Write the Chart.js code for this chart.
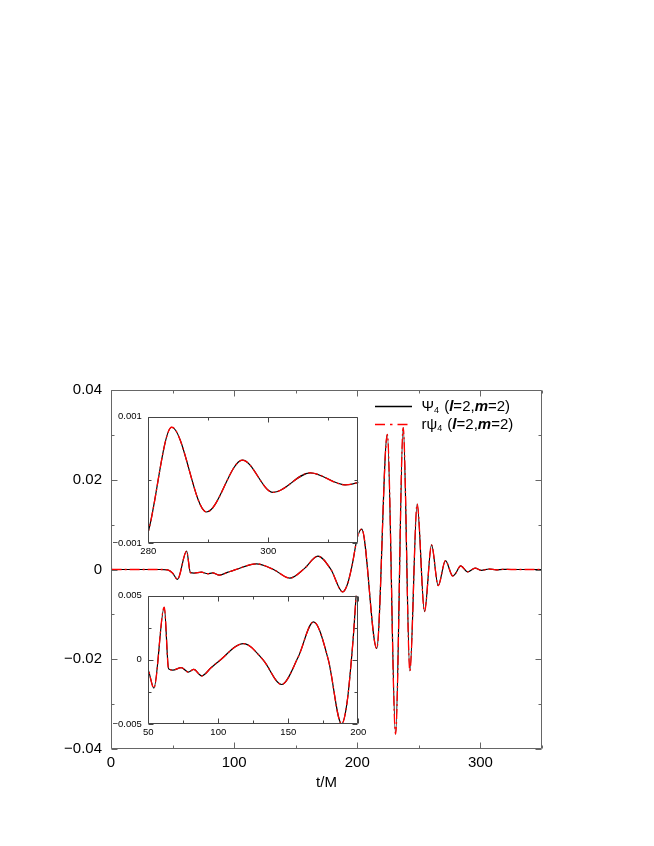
<!DOCTYPE html>
<html>
<head>
<meta charset="utf-8">
<script src="https://cdn.jsdelivr.net/npm/chart.js@4.4.1/dist/chart.umd.min.js"></script>
<style>
  html, body { margin: 0; padding: 0; background: #fff; }
  #wrap { position: relative; width: 654px; height: 846px; }
  #wrap canvas { position: absolute; left: 0; top: 0; }
</style>
</head>
<body>
<div id="wrap">
  <canvas id="main" width="654" height="846"></canvas>
  <canvas id="insetTop" width="654" height="846"></canvas>
  <canvas id="insetBottom" width="654" height="846"></canvas>
</div>
<script>
// time in units of M
const timeM = [0, 0.5, 20, 40, 46, 50, 54, 61.4, 64.5, 67.5, 73.5, 78.5, 82.5, 88, 95, 100,
  118, 132, 145.2, 157, 168, 178.6, 188.1, 192, 196, 200, 203.6, 215.8, 224.4, 231.1, 237.3,
  242.7, 248.6, 254.6, 260.3, 265.7, 271.6, 277.5, 280, 283.9, 289.7, 295.7, 300.8, 307,
  312.8, 318.5, 325, 350];

// Psi_4 (l=2, m=2)
const psi4 = [0.004, 0, 0, 0, -0.0001, -0.0008, -0.0022, 0.0041, -0.0007, -0.0008, -0.0006, -0.00095, -0.00075, -0.00125, -0.0006, -0.00015,
  0.00127, 0, -0.00192, 0.0002, 0.00296, 0, -0.005, -0.0033, 0.0012, 0.0071, 0.009, -0.0176, 0.0301, -0.0367, 0.0316,
  -0.0226, 0.0146, -0.0094, 0.0055, -0.0036, 0.0020, -0.00145, -0.00082, 0.00083, -0.00051, 0.00031, -0.0002, 0.00011,
  -0.00008, 0.00003, 0, 0];

// r psi_4 (l=2, m=2)
const rPsi4 = [0.004, 0, 0, 0, -0.0001, -0.0008, -0.0022, 0.0041, -0.0007, -0.0008, -0.0006, -0.00095, -0.00075, -0.00125, -0.0006, -0.00015,
  0.00127, 0, -0.00192, 0.0002, 0.00296, 0, -0.005, -0.0033, 0.0012, 0.0071, 0.009, -0.0176, 0.0301, -0.0367, 0.0316,
  -0.0226, 0.0146, -0.0094, 0.0055, -0.0036, 0.0020, -0.00145, -0.00082, 0.00083, -0.00051, 0.00031, -0.0002, 0.00011,
  -0.00008, 0.00003, 0, 0];

// tick labels
const mainXLabels = [0, 100, 200, 300];
const mainYLabels = [-0.04, -0.02, 0, 0.02, 0.04];
const topXLabels = [280, 300];
const topYLabels = [-0.001, 0.001];
const bottomXLabels = [50, 100, 150, 200];
const bottomYLabels = [-0.005, 0, 0.005];
const xTitle = 't/M';

const FONT = "'Liberation Sans', Arial, Helvetica, sans-serif";
const RED_DASH = [10, 3, 2, 3];

function isIn(v, list) {
  return list.some(u => Math.abs(u - v) < 1e-9);
}
function fmt(v, dec) {
  if (Math.abs(v) < 1e-12) return '0';
  return (v < 0 ? '\u2212' : '') + Math.abs(v).toFixed(dec);
}
function points(vals) {
  return timeM.map((t, i) => ({x: t, y: vals[i]}));
}

// box with inward ticks on all four sides, optional white fill
const framePlugin = {
  id: 'frame',
  beforeDatasetsDraw(chart, args, o) {
    if (!o.fill) return;
    const a = chart.chartArea;
    chart.ctx.save();
    chart.ctx.fillStyle = '#fff';
    chart.ctx.fillRect(a.left, a.top, a.right - a.left, a.bottom - a.top);
    chart.ctx.restore();
  },
  afterDatasetsDraw(chart, args, o) {
    const {ctx, chartArea: a} = chart;
    const x = chart.scales.x, y = chart.scales.y;
    ctx.save();
    ctx.strokeStyle = o.color;
    ctx.lineWidth = 1;
    ctx.beginPath();
    const L = Math.round(a.left) + 0.5, R = Math.round(a.right) - 0.5;
    const T = Math.round(a.top) + 0.5, B = Math.round(a.bottom) - 0.5;
    ctx.rect(L, T, R - L, B - T);
    const n0 = Math.ceil(x.min / o.xStep - 1e-9), n1 = Math.floor(x.max / o.xStep + 1e-9);
    for (let n = n0; n <= n1; n++) {
      const v = n * o.xStep;
      const px = Math.round(x.getPixelForValue(v)) + 0.5;
      const len = isIn(v, o.xLabels) ? o.major : o.minor;
      ctx.moveTo(px, B); ctx.lineTo(px, B - len);
      ctx.moveTo(px, T); ctx.lineTo(px, T + len);
    }
    const m0 = Math.ceil(y.min / o.yStep - 1e-9), m1 = Math.floor(y.max / o.yStep + 1e-9);
    for (let m = m0; m <= m1; m++) {
      const v = m * o.yStep;
      const py = Math.round(y.getPixelForValue(v)) + 0.5;
      const len = isIn(v, o.yLabels) ? o.major : o.minor;
      ctx.moveTo(L, py); ctx.lineTo(L + len, py);
      ctx.moveTo(R, py); ctx.lineTo(R - len, py);
    }
    ctx.stroke();
    ctx.restore();
  }
};

// legend with subscripts and bold italic l, m
const legendPlugin = {
  id: 'richLegend',
  afterDraw(chart, args, o) {
    if (!o.display) return;
    const ctx = chart.ctx;
    const rows = [
      {color: '#000', dash: [], parts: [['Ψ', 'n'], ['4', 's'], [' (', 'n'], ['l', 'b'], ['=2,', 'n'], ['m', 'b'], ['=2)', 'n']]},
      {color: '#ff0000', dash: [10, 5, 2.5, 5], parts: [['rψ', 'n'], ['4', 's'], [' (', 'n'], ['l', 'b'], ['=2,', 'n'], ['m', 'b'], ['=2)', 'n']]}
    ];
    const fonts = {n: '15px ' + FONT, s: '9px ' + FONT, b: 'italic bold 15px ' + FONT};
    ctx.save();
    rows.forEach((r, i) => {
      const yy = 406.5 + i * 18;
      ctx.strokeStyle = r.color;
      ctx.lineWidth = 1.3;
      ctx.setLineDash(r.dash);
      ctx.beginPath();
      ctx.moveTo(375, yy); ctx.lineTo(412, yy);
      ctx.stroke();
      ctx.setLineDash([]);
      let xx = 421.5;
      ctx.fillStyle = '#000';
      ctx.textBaseline = 'middle';
      r.parts.forEach(([t, k]) => {
        ctx.font = fonts[k];
        ctx.fillText(t, xx, k === 's' ? yy + 4 : yy);
        xx += ctx.measureText(t).width + (k === 's' ? 1 : 0);
      });
    });
    ctx.restore();
  }
};

function makeChart(id, cfg) {
  return new Chart(document.getElementById(id), {
    type: 'line',
    data: {
      datasets: [
        // higher order is drawn first, so the red dash-dot sits on top of the black line
        {data: points(psi4), borderColor: '#000', borderWidth: 1.2, pointRadius: 0, order: 2,
          cubicInterpolationMode: 'monotone'},
        {data: points(rPsi4), borderColor: '#ff0000', borderWidth: 1.3, pointRadius: 0, order: 1,
          borderDash: RED_DASH, cubicInterpolationMode: 'monotone'}
      ]
    },
    options: {
      responsive: false,
      animation: false,
      events: [],
      layout: {padding: cfg.padding},
      plugins: {
        legend: {display: false},
        tooltip: {enabled: false},
        frame: {fill: cfg.fill, color: cfg.frameColor, xStep: cfg.xStep, yStep: cfg.yStep,
          xLabels: cfg.xLabels, yLabels: cfg.yLabels, major: cfg.major, minor: cfg.minor},
        richLegend: {display: cfg.legend}
      },
      scales: {
        x: {
          type: 'linear', min: cfg.xMin, max: cfg.xMax,
          grid: {display: false, drawTicks: false},
          border: {display: false},
          ticks: {stepSize: cfg.xStep, autoSkip: false, maxRotation: 0, padding: cfg.xPad,
            color: '#000', font: {family: FONT, size: cfg.fontSize},
            callback: v => isIn(v, cfg.xLabels) ? fmt(v, 0) : ''},
          title: {display: !!cfg.title, text: cfg.title, color: '#000', padding: 0,
            font: {family: FONT, size: cfg.fontSize}},
          afterFit: s => { s.height = cfg.xHeight; }
        },
        y: {
          type: 'linear', min: cfg.yMin, max: cfg.yMax,
          grid: {display: false, drawTicks: false},
          border: {display: false},
          ticks: {stepSize: cfg.yStep, autoSkip: false, padding: cfg.yPad,
            color: '#000', font: {family: FONT, size: cfg.fontSize},
            callback: v => isIn(v, cfg.yLabels) ? fmt(v, cfg.yDec) : ''},
          afterFit: s => { s.width = cfg.yWidth; }
        }
      }
    },
    plugins: [framePlugin, legendPlugin]
  });
}

// main panel: plot area 111..542 x 390..749
makeChart('main', {
  padding: {left: 51, right: 112, top: 390, bottom: 54},
  xMin: 0, xMax: 350, xStep: 50, xLabels: mainXLabels, xHeight: 43, xPad: 5,
  yMin: -0.04, yMax: 0.04, yStep: 0.01, yLabels: mainYLabels, yWidth: 60, yPad: 9, yDec: 2,
  fontSize: 15, title: xTitle, fill: false, frameColor: '#666', major: 6, minor: 3, legend: true
});

// upper inset: plot area 148.3..358.3 x 416.5..543
makeChart('insetTop', {
  padding: {left: 108.3, right: 295.7, top: 416.5, bottom: 283},
  xMin: 280, xMax: 315, xStep: 10, xLabels: topXLabels, xHeight: 20, xPad: 2.5,
  yMin: -0.001, yMax: 0.001, yStep: 0.001, yLabels: topYLabels, yWidth: 40, yPad: 6.5, yDec: 3,
  fontSize: 9.5, title: '', fill: true, frameColor: '#444', major: 5, minor: 3, legend: false
});

// lower inset: plot area 148.3..358.3 x 595.7..724
makeChart('insetBottom', {
  padding: {left: 108.3, right: 295.7, top: 595.7, bottom: 102},
  xMin: 50, xMax: 200, xStep: 25, xLabels: bottomXLabels, xHeight: 20, xPad: 2.5,
  yMin: -0.005, yMax: 0.005, yStep: 0.0025, yLabels: bottomYLabels, yWidth: 40, yPad: 6.5, yDec: 3,
  fontSize: 9.5, title: '', fill: true, frameColor: '#444', major: 5, minor: 3, legend: false
});
</script>
</body>
</html>
